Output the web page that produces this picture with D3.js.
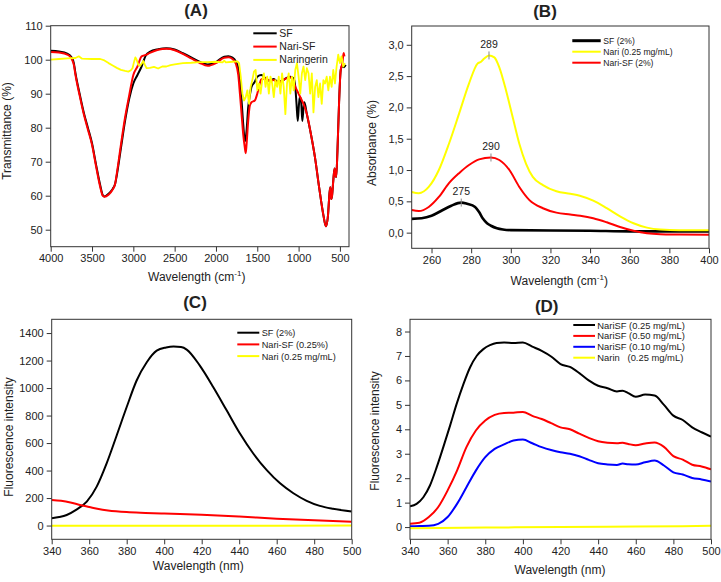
<!DOCTYPE html>
<html><head><meta charset="utf-8">
<script src="https://cdn.jsdelivr.net/npm/d3@7"></script>
<style>body{margin:0;background:#fff} text{font-family:"Liberation Sans",Arial,sans-serif;fill:#222}</style>
</head><body><svg id="c" width="721" height="582" xmlns="http://www.w3.org/2000/svg"></svg>
<script>
// ---------- Panel A : FTIR ----------
const aSF = [[4000,102.6],[3900,102.4],[3800,101.8],[3750,100.8],[3720,99],[3700,96],[3650,90],[3600,84.5],[3550,80],[3500,75.4],[3450,69],[3400,63],[3370,60.2],[3350,59.8],[3300,60.6],[3250,62],[3220,63.5],[3200,66],[3150,74],[3100,82],[3050,88.5],[3000,93],[2950,95.5],[2900,98],[2850,101.2],[2800,102.3],[2700,103.1],[2600,103.4],[2500,103],[2400,101.9],[2300,100.7],[2200,99.4],[2100,98.6],[2000,99.3],[1900,100.9],[1850,101],[1800,100.6],[1760,99.5],[1730,97.5],[1710,94],[1690,88],[1670,81],[1650,76],[1630,79],[1610,86],[1590,89.5],[1570,92],[1530,93.5],[1500,95],[1450,95.5],[1400,94.5],[1350,93.8],[1300,94.3],[1250,93.5],[1200,93.8],[1150,94.6],[1100,95],[1060,94.5],[1040,92],[1025,87],[1010,82],[995,87],[985,89],[970,88],[955,82],[940,86],[930,87.5],[900,84],[850,78],[800,71],[750,62.2],[700,54.3],[670,51],[645,54],[625,61],[615,62.5],[605,59],[595,60],[580,64.5],[565,68],[555,66],[545,65.5],[530,73],[510,87.5],[490,97],[470,98.2],[450,97.8],[430,98.5]];
const aNariSF = [[4000,102.3],[3900,102.1],[3800,101.5],[3750,100.4],[3720,98.5],[3700,95.5],[3650,89.5],[3600,84],[3550,79.5],[3500,75],[3450,68.5],[3400,62.5],[3370,60],[3350,59.7],[3300,60.3],[3250,61.8],[3220,63.5],[3200,66.5],[3150,75],[3100,83],[3050,89.5],[3000,95.5],[2950,98],[2900,101],[2850,101.4],[2800,102],[2700,102.9],[2600,103.2],[2500,102.8],[2400,101.7],[2300,100.4],[2200,99.1],[2100,98.2],[2000,99],[1900,100.6],[1850,100.7],[1800,100.2],[1760,98.8],[1730,95.5],[1710,90],[1690,84],[1670,78],[1650,74],[1640,72.5],[1630,75],[1610,82],[1590,86.5],[1570,87.5],[1530,88],[1500,90],[1470,93],[1450,94.3],[1400,94.5],[1350,93.8],[1300,94],[1250,93.2],[1200,93.8],[1150,94.5],[1100,94.8],[1060,93.5],[1040,92],[1020,91],[1000,90],[970,88.5],[940,87],[900,84],[850,78],[800,71],[750,62.2],[700,54.3],[670,51],[645,54],[625,61],[615,62.5],[605,59],[595,60],[580,64.5],[565,68],[555,66],[545,65.5],[530,73],[510,87.5],[490,97],[470,99],[455,102],[445,101]];
const aNaringerin = [[4000,100],[3900,100.2],[3800,100.4],[3700,100.5],[3660,101],[3620,100.3],[3500,100.2],[3400,100.2],[3350,99.8],[3300,99],[3250,98.3],[3200,97.6],[3150,97],[3100,96.7],[3060,96.5],[3030,96.9],[3010,97.5],[2990,99.5],[2975,100.7],[2960,100],[2940,98.5],[2920,98.2],[2900,98.8],[2880,99.6],[2860,98.5],[2840,97.5],[2800,97.6],[2750,97.9],[2700,97.4],[2650,98],[2600,98],[2550,98.4],[2500,98.6],[2400,99],[2300,99.1],[2200,99.3],[2100,99.3],[2000,99.4],[1920,99.2],[1900,99.7],[1880,99.2],[1800,99.4],[1740,99.5],[1720,99],[1700,95],[1680,90],[1660,88],[1640,89],[1620,91],[1600,87],[1580,92],[1560,94],[1540,96.5],[1520,97],[1500,91],[1480,93],[1460,90],[1440,94],[1420,96],[1400,92],[1380,95],[1360,90],[1340,95],[1320,93],[1300,89],[1280,94],[1260,92],[1240,95],[1220,90],[1200,96],[1180,92],[1160,84],[1140,93],[1120,96],[1100,90],[1080,95],[1060,91],[1040,97],[1020,99],[1000,95],[980,90],[960,96],[940,98],[920,94],[900,97.5],[880,96],[860,90],[840,96],[820,84.5],[800,92],[780,94],[760,89],[740,93],[720,87],[700,94],[680,93],[660,95],[640,91],[620,95],[600,92],[580,97],[560,93],[540,98],[520,101.5],[500,99],[480,101],[460,98],[440,99]];
const aXTicks = [4000,3500,3000,2500,2000,1500,1000,500];
const aYTicks = [50,60,70,80,90,100,110];

// ---------- Panel B : UV-Vis ----------
const bSF = [[250,0.22],[255,0.23],[260,0.27],[265,0.35],[270,0.43],[275,0.48],[278,0.46],[282,0.41],[284,0.33],[286,0.22],[288,0.15],[290,0.11],[293,0.07],[296,0.05],[300,0.04],[320,0.035],[340,0.03],[360,0.02],[380,0.02],[400,0.018]];
const bNari = [[250,0.65],[253.6,0.63],[258.6,0.73],[263.7,1.0],[268.8,1.42],[273.9,1.9],[278.9,2.38],[283.2,2.7],[285,2.73],[286.6,2.78],[289,2.83],[291.7,2.8],[294.2,2.64],[297.6,2.27],[300.9,1.85],[304.3,1.42],[307.7,1.1],[311.1,0.89],[316.2,0.76],[323,0.66],[330,0.62],[334.8,0.59],[341.6,0.51],[348.4,0.39],[355.1,0.26],[361.9,0.15],[368.7,0.08],[375.4,0.05],[385,0.04],[400,0.04]];
const bNariSF = [[250,0.36],[253.6,0.345],[258.6,0.41],[263.7,0.57],[268.8,0.79],[273.9,0.95],[278.9,1.08],[284,1.17],[290,1.2],[294.2,1.16],[299.3,1.0],[304.3,0.73],[309.4,0.52],[316.2,0.39],[323,0.32],[330,0.29],[335,0.27],[341.6,0.23],[348.4,0.165],[355.1,0.09],[361.9,0.03],[368.7,-0.01],[375.4,-0.025],[385,-0.03],[400,-0.035]];
const bPeakX = [289,290,275];
const bPeakY = [2.83,1.2,0.48];
const bXTicks = [260,280,300,320,340,360,380,400];
const bYTicks = [0,0.5,1,1.5,2,2.5,3];

// ---------- Panel C : Fluorescence ----------
const cSF = [[340,53],[344,62],[348,77],[353,114],[358.7,174],[364,283],[369.3,452],[374.7,657],[380,862],[385.3,1055],[390.7,1188],[396,1272],[401,1295],[405,1302],[409,1298],[412,1280],[419,1163],[426.2,1006],[433.3,838],[440.4,669],[447.5,524],[454.7,403],[461.8,307],[468.9,235],[476,180],[483,143],[490,122],[500,103]];
const cNariSF = [[340,186],[345,180],[350,168],[355,150],[360,135],[365,120],[370,110],[380,98],[390,92],[400,87],[420,78],[440,65],[460,50],[480,38],[500,28]];
const cNari = [[340,-2],[380,-2],[420,-1],[460,-1],[500,0]];
const cXTicks = [340,360,380,400,420,440,460,480,500];
const cYTicks = [0,200,400,600,800,1000,1200,1400];

// ---------- Panel D : Fluorescence (concentrations) ----------
const d025 = [[340,0.85],[343.5,0.95],[347.1,1.22],[350.6,1.7],[354.2,2.45],[357.7,3.27],[361.3,4.15],[364.8,5.04],[368.4,5.85],[371.9,6.53],[375.5,7.01],[379,7.28],[382.5,7.44],[386,7.53],[390,7.55],[395,7.53],[400,7.55],[405,7.38],[410,7.21],[415,6.98],[420,6.67],[425,6.55],[430,6.3],[435,6.0],[440,5.78],[445,5.68],[450,5.55],[453,5.58],[456,5.48],[460,5.33],[465,5.42],[470,5.38],[475,5.0],[480,4.56],[485,4.38],[490,4.08],[495,3.88],[500,3.7]];
const d050 = [[340,0.14],[345,0.18],[350,0.41],[355,0.82],[360,1.5],[365,2.31],[370,3.27],[375,3.95],[380,4.36],[385,4.59],[390,4.67],[395,4.68],[400,4.71],[405,4.55],[410,4.42],[415,4.25],[420,4.08],[425,4.0],[430,3.82],[435,3.65],[440,3.51],[445,3.45],[450,3.43],[453,3.45],[456,3.4],[460,3.35],[465,3.42],[470,3.46],[475,3.28],[480,2.9],[485,2.76],[490,2.55],[495,2.48],[500,2.36]];
const d010 = [[340,0.03],[345,0.04],[350,0.05],[355,0.13],[360,0.41],[365,0.95],[370,1.63],[375,2.31],[380,2.86],[385,3.2],[390,3.38],[395,3.54],[400,3.58],[405,3.43],[410,3.27],[415,3.15],[420,3.06],[425,3.0],[430,2.9],[435,2.75],[440,2.61],[445,2.56],[450,2.54],[453,2.6],[456,2.57],[460,2.56],[465,2.65],[470,2.72],[475,2.52],[480,2.24],[485,2.15],[490,2.01],[495,1.95],[500,1.86]];
const dNarin = [[340,-0.05],[380,-0.02],[420,0.0],[460,0.02],[500,0.05]];
const dXTicks = [340,360,380,400,420,440,460,480,500];
const dYTicks = [0,1,2,3,4,5,6,7,8];

const svg = d3.select("#c");
let clipId = 0;

function panel(o) {
  const g = svg.append("g");
  const x = d3.scaleLinear().domain(o.xd).range([o.l, o.r]);
  const y = d3.scaleLinear().domain(o.yd).range([o.b, o.t]);
  const id = "clip" + (clipId++);
  svg.append("clipPath").attr("id", id).append("rect")
    .attr("x", o.l).attr("y", o.t).attr("width", o.r - o.l).attr("height", o.b - o.t);

  const xa = g.append("g").attr("transform", `translate(0,${o.b})`);
  xa.call(d3.axisBottom(x).tickValues(o.xMinor).tickSize(3).tickFormat(""));
  xa.call(d3.axisBottom(x).tickValues(o.xTicks).tickSize(5).tickFormat(o.xf || d3.format("d")));
  const ya = g.append("g").attr("transform", `translate(${o.l},0)`);
  ya.call(d3.axisLeft(y).tickValues(o.yMinor).tickSize(3).tickFormat(""));
  ya.call(d3.axisLeft(y).tickValues(o.yTicks).tickSize(5).tickFormat(o.yf || d3.format("d")));
  g.selectAll(".domain").remove();
  g.selectAll(".tick line").attr("stroke", "#333");
  g.selectAll(".tick text").attr("font-size", 11).attr("font-family", "'Liberation Sans',Arial,sans-serif").attr("fill", "#222");

  const sg = g.append("g").attr("clip-path", `url(#${id})`);
  o.series.forEach(s => {
    const line = d3.line().x(d => x(d[0])).y(d => y(d[1])).curve(s.curve || d3.curveMonotoneX);
    sg.append("path").datum(s.data).attr("d", line).attr("fill", "none")
      .attr("stroke", s.color).attr("stroke-width", s.w || 2).attr("stroke-linejoin", "round");
  });

  g.append("rect").attr("x", o.l).attr("y", o.t).attr("width", o.r - o.l).attr("height", o.b - o.t)
    .attr("fill", "none").attr("stroke", "#333").attr("stroke-width", 1);

  o.series.forEach((s, i) => {
    const ly = o.leg.y0 + i * o.leg.dy;
    g.append("line").attr("x1", o.leg.x1).attr("x2", o.leg.x2).attr("y1", ly).attr("y2", ly)
      .attr("stroke", s.color).attr("stroke-width", s.lw || 2);
    g.append("text").attr("x", o.leg.tx).attr("y", ly + 3.5).attr("font-size", o.leg.fs)
      .style("white-space", "pre").text(s.name);
  });

  g.append("text").attr("x", o.title[1]).attr("y", o.title[2]).attr("text-anchor", "middle")
    .attr("font-size", 17).attr("font-weight", "bold").text(o.title[0]);

  const xt = g.append("text").attr("x", o.xt[0]).attr("y", o.xt[1]).attr("text-anchor", "middle").attr("font-size", 12);
  if (o.cm) {
    xt.append("tspan").text("Wavelength (cm");
    xt.append("tspan").attr("font-size", 8).attr("dy", -5).text("-1");
    xt.append("tspan").attr("dy", 5).text(")");
  } else xt.text("Wavelength (nm)");
  g.append("text").attr("transform", `translate(${o.yt[0]},${o.yt[1]}) rotate(-90)`)
    .attr("text-anchor", "middle").attr("font-size", 12).text(o.ytext);
  return {g, x, y};
}

function range(a, b, s) { const r = []; for (let v = a; v <= b + 1e-9; v += s) r.push(+v.toFixed(4)); return r; }

panel({
  l: 50.7, r: 349, t: 25.7, b: 246.7, xd: [4000, 390], yd: [45, 110],
  xTicks: aXTicks, xMinor: range(500, 4000, 250), yTicks: aYTicks, yMinor: range(45, 110, 5),
  series: [
    {name: "SF", data: aSF, color: "#000", w: 2},
    {name: "Nari-SF", data: aNariSF, color: "#ff0000", w: 2},
    {name: "Naringerin", data: aNaringerin, color: "#ffff00", w: 1.8, curve: d3.curveLinear}
  ],
  leg: {x1: 253.3, x2: 276.7, tx: 279.3, y0: 33.3, dy: 13.3, fs: 10.5},
  title: ["(A)", 196, 16], xt: [196.7, 281], cm: true, yt: [10.5, 131], ytext: "Transmittance (%)"
});

const B = panel({
  l: 411.7, r: 709, t: 26, b: 248.3, xd: [250, 400], yd: [-0.25, 3.3],
  xTicks: bXTicks, xMinor: range(250, 400, 10), yTicks: bYTicks, yMinor: range(-0.25, 3.25, 0.25),
  yf: v => d3.format(".1f")(v).replace(".", ","),
  series: [
    {name: "SF (2%)", data: bSF, color: "#000", w: 2.6, lw: 3},
    {name: "Nari (0.25 mg/mL)", data: bNari, color: "#ffff00", w: 2},
    {name: "Nari-SF (2%)", data: bNariSF, color: "#ff0000", w: 2}
  ],
  leg: {x1: 572.3, x2: 600.7, tx: 603.3, y0: 40.7, dy: 11, fs: 8.6},
  title: ["(B)", 545, 17], xt: [559.3, 285], cm: true, yt: [376, 143], ytext: "Absorbance (%)"
});
bPeakX.forEach((px, i) => {
  const X = B.x(px), Y = B.y(bPeakY[i]);
  B.g.append("line").attr("x1", X).attr("x2", X).attr("y1", Y - 4).attr("y2", Y + 4)
    .attr("stroke", "#888").attr("stroke-width", 1);
  B.g.append("text").attr("x", X).attr("y", Y - 7.5).attr("text-anchor", "middle").attr("font-size", 10.5).text(px);
});

panel({
  l: 51.7, r: 351.7, t: 319.3, b: 539.3, xd: [340, 500], yd: [-100, 1500],
  xTicks: cXTicks, xMinor: range(340, 500, 10), yTicks: cYTicks, yMinor: range(-100, 1500, 100),
  series: [
    {name: "SF (2%)", data: cSF, color: "#000", w: 2},
    {name: "Nari-SF (0.25%)", data: cNariSF, color: "#ff0000", w: 2},
    {name: "Nari (0.25 mg/mL)", data: cNari, color: "#ffff00", w: 2}
  ],
  leg: {x1: 237.3, x2: 259.3, tx: 261.7, y0: 332.7, dy: 11.7, fs: 9.2},
  title: ["(C)", 195, 308], xt: [198.3, 570], cm: false, yt: [13, 437], ytext: "Fluorescence intensity"
});

panel({
  l: 410, r: 711, t: 319.3, b: 539.3, xd: [340, 500], yd: [-0.5, 8.5],
  xTicks: dXTicks, xMinor: range(340, 500, 10), yTicks: dYTicks, yMinor: range(-0.5, 8.5, 0.5),
  series: [
    {name: "NariSF (0.25 mg/mL)", data: d025, color: "#000", w: 2},
    {name: "NariSF (0.50 mg/mL)", data: d050, color: "#ff0000", w: 2},
    {name: "NariSF (0.10 mg/mL)", data: d010, color: "#0000ff", w: 2},
    {name: "Narin   (0.25 mg/mL)", data: dNarin, color: "#ffff00", w: 2}
  ],
  leg: {x1: 573.3, x2: 595, tx: 597.3, y0: 325, dy: 10.9, fs: 9.4},
  title: ["(D)", 546.7, 312], xt: [560, 574], cm: false, yt: [379, 431], ytext: "Fluorescence intensity"
});
</script></body></html>
